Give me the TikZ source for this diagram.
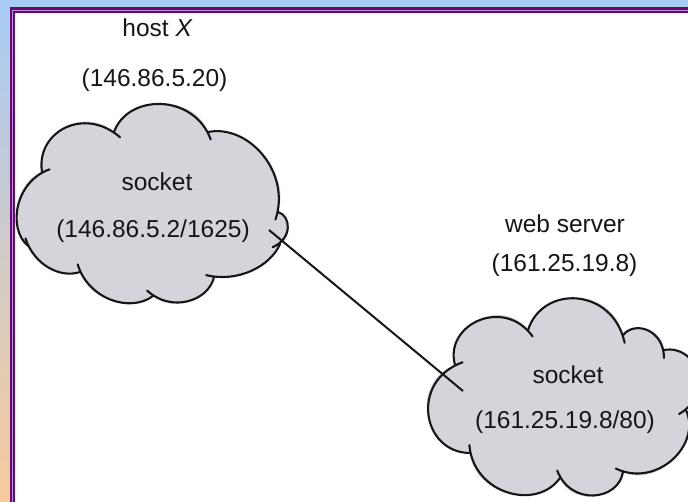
\documentclass[tikz,border=0pt]{standalone}
\usepackage{fontspec}
\setmainfont{Liberation Sans}
\definecolor{bgtop}{RGB}{168,204,246}
\definecolor{bgmid}{RGB}{205,200,225}
\definecolor{bgbot}{RGB}{248,202,156}
\definecolor{framepurple}{RGB}{104,8,114}
\definecolor{framelav}{RGB}{185,145,215}
\definecolor{cloudgray}{RGB}{213,212,218}
\definecolor{inkcol}{RGB}{22,22,22}
\tikzset{
  lbl/.style={anchor=base, inner sep=0pt, text=inkcol, font=\fontsize{24.5}{29}\selectfont},
  cloudfill/.style={fill=cloudgray},
  cloudline/.style={draw=inkcol, line width=2.1pt, line cap=round, shorten >=-8pt},
  link/.style={draw=inkcol, line width=2pt}
}
\begin{document}
\begin{tikzpicture}[x=1pt,y=1pt]
\useasboundingbox (0,0) rectangle (688,-501);
% background
\shade[top color=bgtop, middle color=bgmid, bottom color=bgbot] (0,0) rectangle (688,-501);
\fill[framepurple] (10,-7) rectangle (700,-510);
\draw[framelav, line width=1.2pt] (12.8,-10.7) rectangle (700,-510);
\fill[white] (15,-12.8) rectangle (700,-510);

% cloud 1 junctions
\coordinate (J1) at (42,-172);
\coordinate (J2) at (114,-132);
\coordinate (J3) at (208,-132);
\coordinate (J4) at (278,-212);
\coordinate (J5) at (280,-244);
\coordinate (J6) at (214,-277);
\coordinate (J7) at (153,-296);
\coordinate (J8) at (80,-272);
\coordinate (J9) at (28,-246);
\fill[cloudfill] (J1) to[bend left=70,looseness=1.25] (J2)
  to[bend left=70,looseness=1.12] (J3)
  to[bend left=60,looseness=1.0] (J4)
  to[bend left=70,looseness=1.1] (J5)
  to[bend left=40,looseness=0.85] (J6)
  to[bend left=60,looseness=1.0] (J7)
  to[bend left=55,looseness=0.95] (J8)
  to[bend left=45,looseness=0.9] (J9)
  to[bend left=60,looseness=0.95] (J1) -- cycle;
\foreach \a/\b/\bd/\lo in {J1/J2/70/1.25, J2/J3/70/1.12, J3/J4/60/1.0, J4/J5/70/1.1,
  J5/J6/40/0.85, J6/J7/60/1.0, J7/J8/55/0.95, J8/J9/45/0.9, J9/J1/60/0.95}
  \draw[cloudline] (\a) to[bend left=\bd,looseness=\lo] (\b);

% cloud 2 junctions
\coordinate (K1) at (455,-365);
\coordinate (K2) at (528,-330);
\coordinate (K3) at (623,-335);
\coordinate (K4) at (664,-350);
\coordinate (K5) at (686,-410);
\coordinate (K6) at (623,-472);
\coordinate (K7) at (560,-478);
\coordinate (K8) at (470,-453);
\fill[cloudfill] (K1) to[bend left=80,looseness=1.32] (K2)
  to[bend left=75,looseness=1.3] (K3)
  to[bend left=70,looseness=1.15] (K4)
  to[bend left=80,looseness=1.35] (K5)
  to[bend left=70,looseness=1.1] (K6)
  to[bend left=75,looseness=1.2] (K7)
  to[bend left=70,looseness=1.12] (K8)
  to[bend left=80,looseness=1.38] (K1) -- cycle;
\foreach \a/\b/\bd/\lo in {K1/K2/80/1.32, K2/K3/75/1.3, K3/K4/70/1.15, K4/K5/80/1.35,
  K5/K6/70/1.1, K6/K7/75/1.2, K7/K8/70/1.12, K8/K1/80/1.38}
  \draw[cloudline] (\a) to[bend left=\bd,looseness=\lo] (\b);

% connector
\coordinate (e1) at (269,-230);
\coordinate (e2) at (463,-391);
\draw[link] (e1) -- (e2);

% labels
\node[lbl] (host)  at (157.5,-36.7) {host \textit{X}};
\node[lbl] (hostip) at (154.5,-86) {(146.86.5.20)};
\node[lbl] (sock1) at (157,-190) {socket};
\node[lbl] (addr1) at (153,-237) {(146.86.5.2/1625)};
\node[lbl] (web)   at (565,-232) {web server};
\node[lbl] (webip) at (564.5,-271) {(161.25.19.8)};
\node[lbl] (sock2) at (568,-383) {socket};
\node[lbl] (addr2) at (565,-428) {(161.25.19.8/80)};
\end{tikzpicture}
\end{document}
